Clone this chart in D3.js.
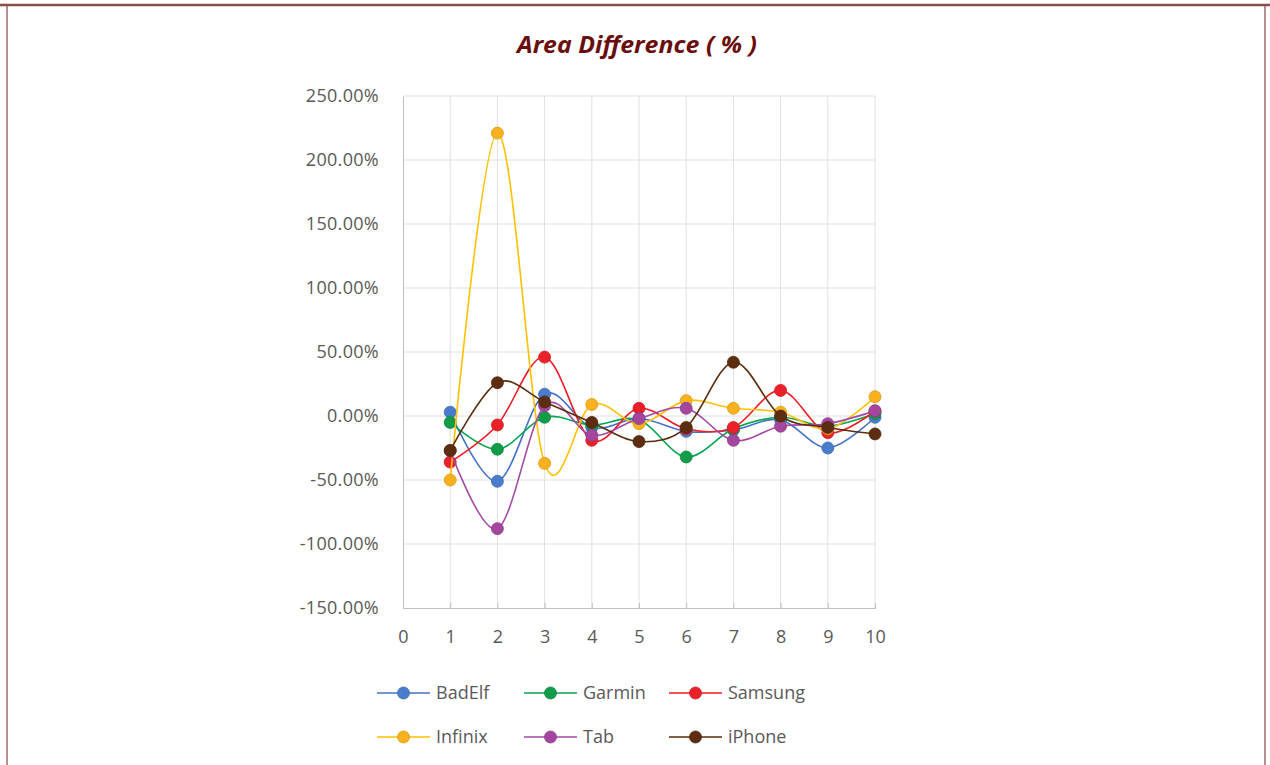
<!DOCTYPE html>
<html>
<head>
<meta charset="utf-8">
<script src="https://cdn.jsdelivr.net/npm/d3@7"></script>
<style>
  body { margin: 0; background: #fff; }
  svg { display: block; }
</style>
</head>
<body>
<div id="chart"></div>
<script>
// chart values (percent)
const xValues = [1, 2, 3, 4, 5, 6, 7, 8, 9, 10];
const xTicks = [0, 1, 2, 3, 4, 5, 6, 7, 8, 9, 10];
const yTicks = [-150, -100, -50, 0, 50, 100, 150, 200, 250];
const seriesNames = ["BadElf", "Garmin", "Samsung", "Infinix", "Tab", "iPhone"];
const badElf  = [3, -51, 17, -9, -2, -12, -11, -3, -25, -1];
const garmin  = [-5, -26, -1, -7, -3, -32, -10, -1, -8, 2];
const samsung = [-36, -7, 46, -19, 6, -10, -9, 20, -13, 4];
const infinix = [-50, 221, -37, 9, -6, 12, 6, 3, -10, 15];
const tab     = [-27, -88, 8, -15, -2, 6, -19, -8, -6, 4];
const iphone  = [-27, 26, 11, -5, -20, -9, 42, 0, -9, -14];

const seriesValues = [badElf, garmin, samsung, infinix, tab, iphone];
const lineColors = ["#4472C4", "#00A650", "#ED1C24", "#FFC000", "#A349A4", "#5A2D0C"];
const dotColors  = ["#4a7ccc", "#119c4a", "#ec2028", "#f9b21d", "#a4469f", "#5c2d10"];

const W = 1270, H = 765;
const margin = { top: 96, left: 403, right: 395, bottom: 157 };
const width = W - margin.left - margin.right;
const height = H - margin.top - margin.bottom;

const svg = d3.select("#chart").append("svg")
    .attr("width", W)
    .attr("height", H);

// outer frame
svg.append("line").attr("x1", 0).attr("x2", W).attr("y1", 5).attr("y2", 5)
    .attr("stroke", "#8d4c4c").attr("stroke-width", 2.5);
svg.append("line").attr("x1", 7).attr("x2", 7).attr("y1", 5).attr("y2", H)
    .attr("stroke", "#8d5555").attr("stroke-width", 1.3);
svg.append("line").attr("x1", 1265).attr("x2", 1265).attr("y1", 5).attr("y2", H)
    .attr("stroke", "#8d5555").attr("stroke-width", 1.3);

// title
svg.append("text")
    .attr("x", 637)
    .attr("y", 53)
    .attr("text-anchor", "middle")
    .attr("textLength", 240)
    .attr("lengthAdjust", "spacingAndGlyphs")
    .style("font-family", "'Open Sans', 'Noto Sans', sans-serif")
    .style("font-weight", "bold")
    .style("font-style", "italic")
    .style("font-size", "24px")
    .style("fill", "#6a0d0d")
    .text("Area Difference ( % )");

const g = svg.append("g")
    .attr("transform", "translate(" + margin.left + "," + margin.top + ")");

const x = d3.scaleLinear().domain([0, 10]).range([0, width]);
const y = d3.scaleLinear().domain([-150, 250]).range([height, 0]);

// grid
g.append("g")
    .selectAll("line.hg")
    .data(yTicks.filter(d => d > -150))
    .enter().append("line")
    .attr("x1", 0).attr("x2", width)
    .attr("y1", d => y(d)).attr("y2", d => y(d))
    .attr("stroke", "#e0e0e0").attr("stroke-width", 1);

g.append("g")
    .selectAll("line.vg")
    .data(xTicks.filter(d => d > 0))
    .enter().append("line")
    .attr("x1", d => x(d)).attr("x2", d => x(d))
    .attr("y1", 0).attr("y2", height)
    .attr("stroke", "#e0e0e0").attr("stroke-width", 1);

const tickFont = "'Open Sans', 'Noto Sans', sans-serif";

// axes
const yAxis = g.append("g")
    .call(d3.axisLeft(y).tickValues(yTicks).tickSize(0).tickPadding(24)
        .tickFormat(d => d.toFixed(2) + "%"));
yAxis.select(".domain").attr("stroke", "#bfbfbf");
yAxis.selectAll("text")
    .style("font-family", tickFont)
    .style("font-size", "18px")
    .style("letter-spacing", "0.3px")
    .style("fill", "#595959");

const xAxis = g.append("g")
    .attr("transform", "translate(0," + height + ")")
    .call(d3.axisBottom(x).tickValues(xTicks).tickSize(-5).tickPadding(22));
xAxis.select(".domain").attr("stroke", "#bfbfbf");
xAxis.selectAll(".tick line").attr("stroke", "#bfbfbf");
xAxis.selectAll("text")
    .style("font-family", tickFont)
    .style("font-size", "18px")
    .style("fill", "#595959");

// series
const line = d3.line()
    .x((d, i) => x(xValues[i]))
    .y(d => y(d))
    .curve(d3.curveCatmullRom.alpha(0));

seriesValues.forEach((vals, s) => {
    g.append("path")
        .datum(vals)
        .attr("d", line)
        .attr("fill", "none")
        .attr("stroke", lineColors[s])
        .attr("stroke-width", 1.6);

    g.selectAll(".dot" + s)
        .data(vals)
        .enter().append("circle")
        .attr("cx", (d, i) => x(xValues[i]))
        .attr("cy", d => y(d))
        .attr("r", 6)
        .attr("fill", dotColors[s])
        .attr("stroke", d3.color(dotColors[s]).darker(0.4))
        .attr("stroke-width", 0.8);
});

// legend
const legendCols = [377, 524, 669];
const legendRows = [693, 737];
const legend = svg.append("g");
seriesNames.forEach((name, s) => {
    const lx = legendCols[s % 3];
    const ly = legendRows[Math.floor(s / 3)];
    const item = legend.append("g").attr("transform", "translate(" + lx + "," + ly + ")");
    item.append("line")
        .attr("x1", 0).attr("x2", 53)
        .attr("y1", 0).attr("y2", 0)
        .attr("stroke", lineColors[s])
        .attr("stroke-width", 1.6);
    item.append("circle")
        .attr("cx", 26.5).attr("cy", 0).attr("r", 6)
        .attr("fill", dotColors[s])
        .attr("stroke", d3.color(dotColors[s]).darker(0.4))
        .attr("stroke-width", 0.8);
    item.append("text")
        .attr("x", 59)
        .attr("y", 0)
        .attr("dy", "0.35em")
        .style("font-family", tickFont)
        .style("font-size", "18px")
        .style("fill", "#595959")
        .text(name);
});
</script>
</body>
</html>
